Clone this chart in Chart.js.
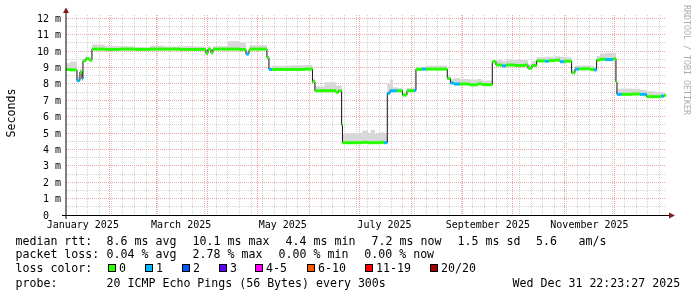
<!DOCTYPE html>
<html>
<head>
<meta charset="utf-8">
<script src="https://cdn.jsdelivr.net/npm/chart.js@4.4.1/dist/chart.umd.min.js"></script>
<style>
html,body{margin:0;padding:0;background:#fff;}
#wrap{width:697px;height:297px;}
</style>
</head>
<body>
<div id="wrap"><canvas id="grafica" width="697" height="297"></canvas></div>
<script>
// x values are days counted from 2025-01-01 00:00
const startDay = 4.93;
const endDay = 364.93;

// each step holds from its day until the next step
const stepDays = [4.9, 7.3, 11.5, 13.3, 14.5, 15.1, 16.9, 18.7, 20.5, 28.3,
  37.3, 46.3, 55.3, 64.3, 73.3, 82.3, 88.9, 90.1, 91.9, 93.1,
  102.1, 109.3, 112.9, 114.7, 115.3, 125.5, 126.7, 128.5, 139.3, 148.3,
  152.8, 154.3, 160.3, 166.9, 168.4, 170.3, 170.8, 175.3, 181.3, 182.5,
  186.1, 187.9, 190.3, 193.3, 195.7, 197.7, 199.3, 201.1, 203.5, 206.8,
  209.5, 213.7, 214.9, 218.5, 220.9, 226.3, 233.7, 235.6, 237.7, 241.3,
  247.3, 252.1, 254.5, 260.7, 262.9, 266.5, 268.9, 274.3, 280.3, 282.1,
  284.5, 287.3, 292.3, 294.7, 298.3, 301.3, 303.7, 308.3, 310.3, 312.7,
  319.3, 321.7, 323.3, 325.3, 328.3, 333.1, 334.9, 335.5, 338.5, 344.5,
  349.3, 353.3, 358.3, 361.9, 363.7];
const medianMs = [8.88, 8.85, 8.2, 8.72, 8.3, 9.4, 9.55, 9.45, 10.12, 10.1,
  10.12, 10.1, 10.12, 10.12, 10.1, 10.1, 9.86, 10.1, 9.9, 10.12,
  10.12, 10.1, 9.82, 10.05, 10.12, 9.6, 8.88, 8.88, 8.88, 8.9,
  8.13, 7.58, 7.58, 7.48, 7.58, 5.5, 4.41, 4.41, 4.41, 4.43,
  4.41, 4.41, 4.41, 4.43, 4.41, 7.42, 7.58, 7.58, 7.58, 7.32,
  7.58, 7.6, 8.88, 8.9, 8.9, 8.9, 8.33, 8.05, 7.99, 7.99,
  7.94, 8.0, 7.95, 9.35, 9.15, 9.1, 9.15, 9.12, 9.15, 8.95,
  9.12, 9.4, 9.38, 9.42, 9.45, 9.35, 9.38, 8.68, 8.9, 8.92,
  8.88, 8.85, 9.45, 9.5, 9.48, 9.52, 8.13, 7.36, 7.36, 7.38,
  7.36, 7.22, 7.22, 7.25, 7.3];
const smokeMs = [9.25, 9.35, 8.45, 8.9, 8.5, 9.55, 9.65, 9.6, 10.4, 10.3,
  10.3, 10.25, 10.32, 10.28, 10.3, 10.28, 10.0, 10.3, 10.1, 10.3,
  10.6, 10.5, 10.0, 10.3, 10.35, 9.7, 9.0, 9.1, 9.13, 9.15,
  8.3, 7.85, 8.1, 7.9, 7.9, 5.5, 4.95, 5.0, 4.95, 5.15,
  4.95, 5.2, 4.95, 5.05, 4.95, 8.0, 8.25, 7.8, 7.75, 7.45,
  7.75, 7.7, 9.05, 9.05, 9.1, 9.1, 8.45, 8.3, 8.35, 8.3,
  8.27, 8.3, 8.2, 9.45, 9.45, 9.4, 9.48, 9.45, 9.45, 9.2,
  9.4, 9.62, 9.65, 9.65, 9.68, 9.65, 9.62, 8.8, 9.1, 9.12,
  9.1, 9.05, 9.7, 9.85, 9.9, 9.9, 8.13, 7.7, 7.72, 7.7,
  7.62, 7.55, 7.5, 7.45, 7.4];
const lossPings = [0, 0, 1, 0, 1, 0, 0, 0, 0, 0,
  0, 0, 0, 0, 0, 0, 0, 0, 0, 0,
  0, 0, 1, 0, 0, 0, 1, 0, 0, 0,
  0, 0, 0, 0, 0, 0, 0, 0, 0, 0,
  0, 0, 0, 0, 1, 1, 1, 1, 0, 0,
  0, 1, 0, 1, 0, 0, 0, 1, 1, 0,
  0, 0, 0, 0, 0, 1, 0, 0, 0, 0,
  0, 0, 1, 0, 0, 1, 0, 0, 1, 0,
  0, 1, 0, 0, 1, 0, 0, 1, 0, 0,
  1, 0, 0, 1, 0];

const lossKeys = ['0', '1', '2', '3', '4-5', '6-10', '11-19', '20/20'];
const lossColors = ['#26ff00', '#00b8ff', '#0059ff', '#5e00ff', '#ff00ff', '#ff5500', '#ff0000', '#a00000'];

const monthStarts = [31, 59, 90, 120, 151, 181, 212, 243, 273, 304, 334];
const monthLabels = ['January 2025', 'March 2025', 'May 2025', 'July 2025', 'September 2025', 'November 2025'];
const monthLabelDays = [15, 74, 135, 196, 258, 319];
const yTickValues = [0, 1, 2, 3, 4, 5, 6, 7, 8, 9, 10, 11, 12];
const yTickLabels = ['0  ', '1 m', '2 m', '3 m', '4 m', '5 m', '6 m', '7 m', '8 m', '9 m', '10 m', '11 m', '12 m'];

const legendRows = [
  [[15.5, 'median rtt:'], [106.6, '8.6 ms avg'], [192.6, '10.1 ms max'], [285.6, '4.4 ms min'], [371.6, '7.2 ms now'], [457.6, '1.5 ms sd'], [536, '5.6'], [578.6, 'am/s']],
  [[15.5, 'packet loss:'], [106.6, '0.04 % avg'], [192.6, '2.78 % max'], [278.6, '0.00 % min'], [364.3, '0.00 % now']],
  [[15.5, 'loss color:']],
  [[15.5, 'probe:'], [106.6, '20 ICMP Echo Pings (56 Bytes) every 300s'], [512.6, 'Wed Dec 31 22:23:27 2025']]
];
const boxX = [108, 145, 182, 219, 255, 307, 365, 430];

const grisGrid = '#d2d2d2';
const rojoGrid = '#eba3a3';
const mono = '"DejaVu Sans Mono", monospace';

// data for the chart
const medianLine = stepDays.map((d, i) => ({x: d, y: medianMs[i]}));
medianLine.push({x: endDay, y: medianMs[medianMs.length - 1]});
const smokeLine = stepDays.map((d, i) => ({x: d, y: smokeMs[i]}));
smokeLine.push({x: endDay, y: smokeMs[smokeMs.length - 1]});
const lossLine = [];
stepDays.forEach((d, i) => {
  let sig = i < stepDays.length - 1 ? stepDays[i + 1] : endDay;
  lossLine.push({x: d, y: medianMs[i]}, {x: sig, y: medianMs[i]}, {x: sig, y: null});
});

function ticksX(scale) {
  let t = monthStarts.map(v => ({value: v, major: true}));
  for (let d = 11; d < endDay; d += 7) {
    if (!monthStarts.includes(d)) t.push({value: d, major: false});
  }
  t.sort((a, b) => a.value - b.value);
  scale.ticks = t;
}
function ticksY(scale) {
  let t = [];
  for (let v = 0; v <= 12; v += 0.5) t.push({value: v, major: v % 1 === 0});
  scale.ticks = t;
}

const textos = {
  id: 'textos',
  afterDraw(chart) {
    const ctx = chart.ctx;
    const sx = chart.scales.x, sy = chart.scales.y;
    ctx.save();
    // axes
    ctx.strokeStyle = '#000';
    ctx.lineWidth = 1;
    ctx.beginPath();
    ctx.moveTo(66, 219); ctx.lineTo(66, 12);
    ctx.stroke();
    ctx.beginPath();
    ctx.moveTo(62, 215.5); ctx.lineTo(670, 215.5);
    ctx.stroke();
    ctx.fillStyle = '#7f1f1f';
    ctx.beginPath();
    ctx.moveTo(63, 13); ctx.lineTo(69, 13); ctx.lineTo(66, 7.5); ctx.closePath(); ctx.fill();
    ctx.beginPath();
    ctx.moveTo(669, 212.5); ctx.lineTo(669, 218.5); ctx.lineTo(675, 215.5); ctx.closePath(); ctx.fill();

    // y labels
    ctx.fillStyle = '#000';
    ctx.font = '10px ' + mono;
    ctx.textAlign = 'right';
    ctx.textBaseline = 'alphabetic';
    yTickValues.forEach((v, i) => {
      ctx.fillText(yTickLabels[i], 61, sy.getPixelForValue(v) + 3.5);
    });
    // month labels
    ctx.textAlign = 'center';
    monthLabelDays.forEach((d, i) => {
      ctx.fillText(monthLabels[i], sx.getPixelForValue(d), 228);
    });

    // unit label
    ctx.font = '11.6px ' + mono;
    ctx.save();
    ctx.translate(14.5, 113);
    ctx.rotate(-Math.PI / 2);
    ctx.fillText('Seconds', 0, 0);
    ctx.restore();

    // watermark
    ctx.save();
    ctx.fillStyle = '#acacac';
    ctx.font = '8.3px ' + mono;
    ctx.textAlign = 'left';
    ctx.translate(684, 5);
    ctx.rotate(Math.PI / 2);
    ctx.fillText('RRDTOOL / TOBI OETIKER', 0, 0);
    ctx.restore();

    // legend
    ctx.font = '11.6px ' + mono;
    ctx.textAlign = 'left';
    ctx.fillStyle = '#000';
    const bases = [244.5, 258.4, 272.3, 286.5];
    legendRows.forEach((fila, r) => {
      fila.forEach(([px, txt]) => ctx.fillText(txt, px, bases[r]));
    });
    boxX.forEach((bx, i) => {
      ctx.fillStyle = lossColors[i];
      ctx.fillRect(bx, 264, 8, 8);
      ctx.strokeStyle = '#000';
      ctx.strokeRect(bx + 0.5, 264.5, 7, 7);
      ctx.fillStyle = '#000';
      ctx.fillText(lossKeys[i], bx + 11, bases[2]);
    });
    ctx.restore();
  }
};

new Chart(document.getElementById('grafica'), {
  type: 'line',
  data: {
    datasets: [
      {
        data: lossLine,
        borderWidth: 3,
        borderColor: lossColors[0],
        spanGaps: false,
        segment: {borderColor: c => lossColors[lossPings[Math.floor(c.p0DataIndex / 3)]]},
        order: 0
      },
      {
        data: medianLine,
        borderWidth: 1,
        borderColor: '#111',
        stepped: 'before',
        order: 1
      },
      {
        data: smokeLine,
        borderWidth: 0,
        borderColor: 'rgba(0,0,0,0)',
        backgroundColor: '#d8d8d8',
        stepped: 'before',
        fill: 1,
        order: 2
      }
    ]
  },
  options: {
    responsive: false,
    animation: false,
    devicePixelRatio: 1,
    layout: {padding: {left: 66, right: 31, top: 15, bottom: 82}},
    plugins: {legend: {display: false}, tooltip: {enabled: false}},
    elements: {point: {radius: 0}, line: {tension: 0}},
    scales: {
      x: {
        type: 'linear', min: startDay, max: endDay,
        afterBuildTicks: ticksX,
        afterFit: s => { s.height = 0; },
        ticks: {display: false},
        grid: {drawTicks: false, lineWidth: 1, color: c => c.tick && c.tick.major ? rojoGrid : grisGrid},
        border: {display: false, dash: [1, 1]}
      },
      y: {
        type: 'linear', min: 0, max: 12.2,
        afterBuildTicks: ticksY,
        afterFit: s => { s.width = 0; },
        ticks: {display: false},
        grid: {drawTicks: false, lineWidth: 1, color: c => c.tick && c.tick.major ? rojoGrid : grisGrid},
        border: {display: false, dash: [1, 1]}
      }
    }
  },
  plugins: [textos]
});
</script>
</body>
</html>
